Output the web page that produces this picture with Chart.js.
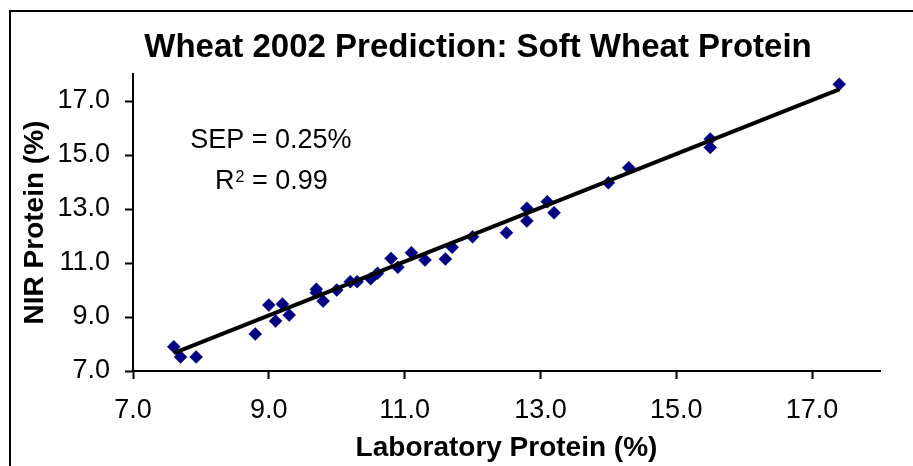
<!DOCTYPE html>
<html>
<head>
<meta charset="utf-8">
<script src="https://cdn.jsdelivr.net/npm/chart.js@4/dist/chart.umd.min.js"></script>
<style>
  html, body { margin: 0; padding: 0; background: #fff; overflow: hidden; }
</style>
</head>
<body>
<canvas id="wheat-chart" width="913" height="466"></canvas>
<script>
// lab vs NIR protein
const labProtein = [7.6, 7.7, 7.93, 8.8, 9.0, 9.1, 9.2, 9.3, 9.7, 9.7, 9.8, 10.0, 10.2, 10.3, 10.5, 10.6,
  10.8, 10.9, 11.1, 11.3, 11.6, 11.7, 12.0, 12.5, 12.8, 12.8, 13.1, 13.2, 14.0, 14.3, 15.5, 15.5, 17.4];
const nirProtein = [7.9, 7.52, 7.52, 8.37, 9.44, 8.85, 9.48, 9.07, 10.03, 9.9, 9.59, 10.0, 10.31, 10.31, 10.42, 10.62,
  11.17, 10.84, 11.38, 11.11, 11.15, 11.58, 11.97, 12.12, 13.03, 12.56, 13.27, 12.86, 13.97, 14.53, 15.59, 15.28, 17.62];

// trend line ends
const fitX = [7.6, 17.4];
const fitY = [7.66, 17.43];

const xTicks = [7, 9, 11, 13, 15, 17];
const yTicks = [7, 9, 11, 13, 15, 17];

const titleText = 'Wheat 2002 Prediction: Soft Wheat Protein';
const sepText = 'SEP = 0.25%';
const r2Value = ' = 0.99';

const FONT = "'Liberation Sans', Arial, sans-serif";

const framePlugin = {
  id: 'frame',
  beforeDraw(chart) {
    const ctx = chart.ctx;
    ctx.save();
    ctx.fillStyle = '#fff';
    ctx.fillRect(0, 0, chart.width, chart.height);
    ctx.strokeStyle = '#000';
    ctx.lineWidth = 2;
    ctx.strokeRect(10, 11, 1000, 1000);
    ctx.fillStyle = '#000';
    ctx.font = 'bold 33px ' + FONT;
    ctx.textAlign = 'center';
    ctx.textBaseline = 'alphabetic';
    ctx.fillText(titleText, 478, 57);
    ctx.restore();
  }
};

// SEP and R² note, placed on the value scales
const notePlugin = {
  id: 'note',
  afterDatasetsDraw(chart) {
    const ctx = chart.ctx;
    const xs = chart.scales.x, ys = chart.scales.y;
    const cx = xs.getPixelForValue(9.03);
    ctx.save();
    ctx.fillStyle = '#000';
    ctx.textBaseline = 'alphabetic';
    ctx.font = '27px ' + FONT;
    ctx.textAlign = 'center';
    ctx.fillText(sepText, cx, ys.getPixelForValue(15.27));

    const by = ys.getPixelForValue(13.73);
    const wR = ctx.measureText('R').width;
    const wRest = ctx.measureText(r2Value).width;
    ctx.font = '16px ' + FONT;
    const wSup = ctx.measureText('2').width;
    let x = cx - (wR + wSup + wRest) / 2;
    ctx.textAlign = 'left';
    ctx.font = '27px ' + FONT;
    ctx.fillText('R', x, by);
    x += wR + 1;
    ctx.font = '16px ' + FONT;
    ctx.fillText('2', x, by - 7);
    x += wSup;
    ctx.font = '27px ' + FONT;
    ctx.fillText(r2Value, x, by);
    ctx.restore();
  }
};

const axisStyle = {
  type: 'linear',
  min: 7,
  max: 18,
  grid: { drawOnChartArea: false, drawTicks: true, tickLength: 8, tickWidth: 2, tickColor: '#000' },
  border: { display: true, color: '#000', width: 2 },
};

new Chart(document.getElementById('wheat-chart'), {
  type: 'scatter',
  data: {
    datasets: [
      {
        label: 'Samples',
        data: labProtein.map((v, i) => ({ x: v, y: nirProtein[i] })),
        pointStyle: 'rectRot',
        pointRadius: 6.5,
        backgroundColor: '#000080',
        borderColor: '#000080',
        borderWidth: 0.5,
        order: 2,
      },
      {
        label: 'Fit',
        type: 'line',
        data: fitX.map((v, i) => ({ x: v, y: fitY[i] })),
        borderColor: '#000',
        borderWidth: 4,
        pointRadius: 0,
        fill: false,
        order: 1,
      },
    ],
  },
  options: {
    responsive: false,
    animation: false,
    devicePixelRatio: 1,
    layout: { padding: { top: 74, right: 33, bottom: 0, left: 0 } },
    plugins: {
      legend: { display: false },
      tooltip: { enabled: false },
      title: { display: false },
    },
    scales: {
      x: {
        ...axisStyle,
        position: 'bottom',
        afterBuildTicks: (s) => { s.ticks = xTicks.map((v) => ({ value: v })); },
        afterFit: (s) => { s.height = 95; },
        ticks: { color: '#000', padding: 15, maxRotation: 0, font: { family: FONT, size: 27 }, callback: (v) => Number(v).toFixed(1) },
        title: { display: true, text: 'Laboratory Protein (%)', color: '#000', padding: { top: 0, bottom: 1 }, font: { family: FONT, size: 28, weight: 'bold' } },
      },
      y: {
        ...axisStyle,
        position: 'left',
        afterBuildTicks: (s) => { s.ticks = yTicks.map((v) => ({ value: v })); },
        afterFit: (s) => { s.width = 133; },
        ticks: { color: '#000', padding: 15, font: { family: FONT, size: 27 }, callback: (v) => Number(v).toFixed(1) },
        title: { display: true, text: 'NIR Protein (%)', color: '#000', padding: { top: 18, bottom: 0 }, font: { family: FONT, size: 28, weight: 'bold' } },
      },
    },
  },
  plugins: [framePlugin, notePlugin],
});
</script>
</body>
</html>
